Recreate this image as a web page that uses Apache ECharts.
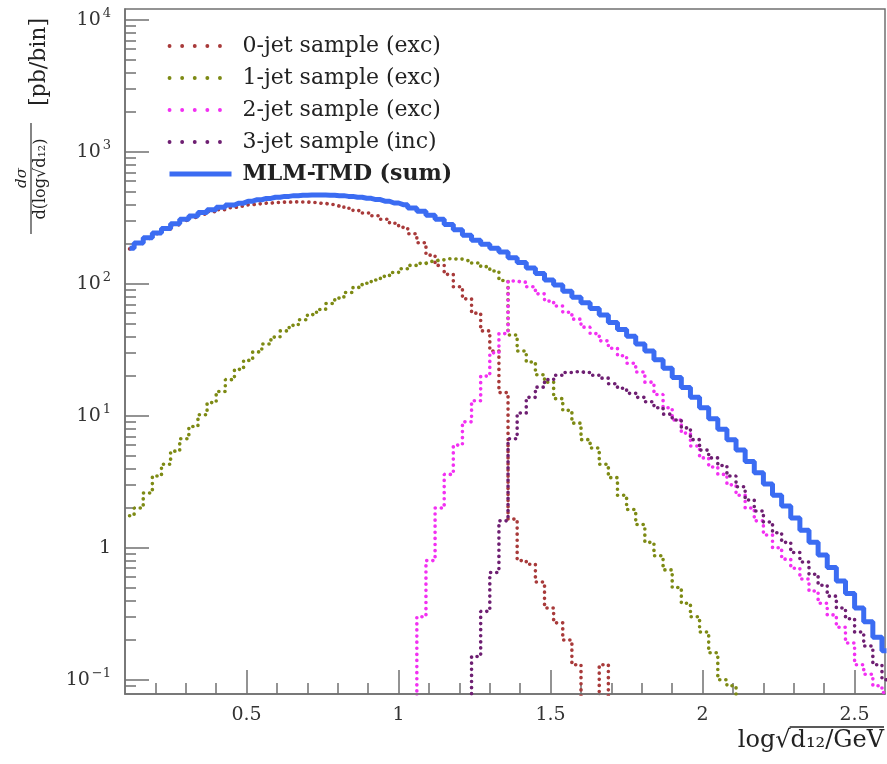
<!DOCTYPE html>
<html>
<head>
<meta charset="utf-8">
<script src="https://cdn.jsdelivr.net/npm/echarts@6/dist/echarts.min.js"></script>
<style>
html,body{margin:0;padding:0;background:#fff;}
#main{width:887px;height:764px;}
</style>
</head>
<body>
<div id="main"></div>
<script>
// ---- data (bin centres of log10 sqrt(d12)/GeV, bin width 0.03) ----
const binCenters = [0.115,0.145,0.175,0.205,0.235,0.265,0.295,0.325,0.355,0.385,
  0.415,0.445,0.475,0.505,0.535,0.565,0.595,0.625,0.655,0.685,
  0.715,0.745,0.775,0.805,0.835,0.865,0.895,0.925,0.955,0.985,
  1.015,1.045,1.075,1.105,1.135,1.165,1.195,1.225,1.255,1.285,
  1.315,1.345,1.375,1.405,1.435,1.465,1.495,1.525,1.555,1.585,
  1.615,1.645,1.675,1.705,1.735,1.765,1.795,1.825,1.855,1.885,
  1.915,1.945,1.975,2.005,2.035,2.065,2.095,2.125,2.155,2.185,
  2.215,2.245,2.275,2.305,2.335,2.365,2.395,2.425,2.455,2.485,
  2.515,2.545,2.575,2.605];

const jet0 = [184,202,221,240,259,280,302,319,337,352,
  365,377,387,397,404,409,414,416,418,417,
  414,408,399,388,374,359,344,328,309,288,
  268,240,205,165,138,118,95,77,60,44,
  31,15,1.65,0.8,0.75,0.55,0.35,0.27,0.2,0.13,
  0.07,0.06,0.13,0.06,null,null,null,null,null,null,
  null,null,null,null,null,null,null,null,null,null,
  null,null,null,null,null,null,null,null,null,null,
  null,null,null,null];

const jet1 = [1.75,2.0,2.6,3.5,4.3,5.4,6.7,8.3,10.2,12.6,
  15.3,18.8,22.5,26.3,30.5,35,39.5,44,48.5,53.5,
  58.5,64,71,78,86,94,101,107,114,122,
  130,138,143,148,152,155,154,150,144,135,
  125,106,41,31,25.6,20.5,18,13.5,11,8.8,
  6.6,5.7,4.3,3.4,2.5,1.95,1.5,1.1,0.87,0.68,
  0.5,0.38,0.3,0.23,0.16,0.1,0.09,0.05,null,null,
  null,null,null,null,null,null,null,null,null,null,
  null,null,null,null];

const jet2 = [null,null,null,null,null,null,null,null,null,null,
  null,null,null,null,null,null,null,null,null,null,
  null,null,null,null,null,null,null,null,null,null,
  null,0.07,0.3,0.8,2.0,3.6,6.0,9.0,13,20,
  30,42,105,103,95,84,74,68,61,54,
  47,42,37,32.5,28.5,25,21.5,18,14.5,11.5,
  9.3,7.4,5.9,4.8,4.1,3.6,3.0,2.5,2.0,1.6,
  1.25,1.0,0.82,0.7,0.58,0.47,0.38,0.31,0.25,0.19,
  0.13,0.11,0.09,0.08];

const jet3 = [null,null,null,null,null,null,null,null,null,null,
  null,null,null,null,null,null,null,null,null,null,
  null,null,null,null,null,null,null,null,null,null,
  null,null,null,null,null,null,null,0.06,0.15,0.33,
  0.65,1.6,6.7,10.5,13.8,16.5,18.8,20.3,21.3,21.6,
  21.3,20.3,19.3,17.5,16.2,14.8,13.8,12.8,11.5,10.3,
  9.3,8.1,6.6,5.5,4.8,4.2,3.5,2.9,2.3,1.9,
  1.57,1.3,1.1,0.92,0.78,0.63,0.52,0.43,0.35,0.29,
  0.23,0.18,0.13,0.1];

const sumTMD = [186,204,224,243,263,285,309,327,347,365,
  380,396,409,423,434,444,453,460,466,470,
  472,472,470,466,460,453,445,435,423,410,
  398,376,355,331,309,282,257,234,214,200,
  186,174,158,145,132,120,107,98,88,79,
  72,65,58,51,45,40,35,31,26.6,22.9,
  19.5,16.4,13.8,11.5,9.5,7.9,6.6,5.5,4.5,3.7,
  3.05,2.5,2.07,1.68,1.36,1.10,0.88,0.71,0.56,0.45,
  0.35,0.275,0.21,0.166];

const seriesNames = ['0-jet sample (exc)','1-jet sample (exc)','2-jet sample (exc)','3-jet sample (inc)','MLM-TMD (sum)'];
const seriesColors = ['#a83a3a','#7d8a14','#f230f2','#6e1f72','#3b6cf2'];
const xMajorTicks = [0.5,1,1.5,2,2.5];
const xMinorTicks = [0.2,0.3,0.4,0.6,0.7,0.8,0.9,1.1,1.2,1.3,1.4,1.6,1.7,1.8,1.9,2.1,2.2,2.3,2.4];
const yMajorTicks = [0.1,1,10,100,1000,10000];
const yMinorTicks = [0.09,0.2,0.3,0.4,0.5,0.6,0.7,0.8,0.9,2,3,4,5,6,7,8,9,
  20,30,40,50,60,70,80,90,200,300,400,500,600,700,800,900,
  2000,3000,4000,5000,6000,7000,8000,9000];

// ---- chart ----
const FONT = 'DejaVu Serif';
const AX = '#707070';
const chart = echarts.init(document.getElementById('main'), null, {renderer:'canvas'});

function pairs(vals){ return binCenters.map((x,i)=>[x, vals[i]]); }
const allVals = [jet0, jet1, jet2, jet3, sumTMD];

const series = allVals.map((vals, k) => {
  const isSum = k === 4;
  return {
    name: seriesNames[k],
    type: 'line',
    step: 'middle',
    data: pairs(vals),
    showSymbol: false,
    symbol: 'none',
    connectNulls: false,
    clip: true,
    z: isSum ? 5 : 3,
    lineStyle: isSum
      ? {color: seriesColors[k], width: 5, type: 'solid'}
      : {color: seriesColors[k], width: 3.6, type: [0.1, 6], cap: 'round'},
    itemStyle: {color: seriesColors[k]}
  };
});

function expLabel(v){
  const e = Math.round(Math.log10(v));
  if (e === 0) return '{b|1}';
  return '{b|10}{s|' + (e < 0 ? '\u2212' + (-e) : e) + '}';
}

// measure overline width for the x-axis title
const mctx = document.createElement('canvas').getContext('2d');
mctx.font = '24px "' + FONT + '"';
const xTitleTail = 'd\u2081\u2082/GeV';
const tailW = mctx.measureText(xTitleTail).width;

const hidden = {color:'rgba(0,0,0,0)', borderColor:'rgba(0,0,0,0)', borderWidth:0, opacity:0};

const option = {
  animation: false,
  backgroundColor: '#fff',
  grid: {left:125, right:2, top:9, bottom:70, show:true, borderColor:AX, borderWidth:1.5, backgroundColor:'transparent'},
  legend: {
    orient: 'vertical',
    left: 162, top: 29,
    itemWidth: 62, itemHeight: 14,
    itemGap: 8,
    itemStyle: hidden,
    textStyle: {fontFamily: FONT, fontSize: 22, color:'#222', lineHeight: 24, padding:[0,0,0,6]},
    data: seriesNames.map((n,k)=> k===4
      ? {name:n, itemStyle: hidden, lineStyle:{width:5, type:'solid', color:seriesColors[k]}, textStyle:{fontWeight:'bold', fontFamily: FONT, fontSize: 22}}
      : {name:n, itemStyle: hidden, lineStyle:{width:3.8, type:[0.1,12.5], cap:'round', color:seriesColors[k]}})
  },
  xAxis: [{
    type:'value', min:0.1, max:2.6,
    axisLine:{show:true, lineStyle:{color:AX, width:1.5}},
    axisTick:{show:true, inside:true, length:24, customValues:xMajorTicks, lineStyle:{color:AX, width:1.5}},
    axisLabel:{customValues:xMajorTicks, fontFamily:FONT, fontSize:19, color:'#333', margin:12,
      formatter: v => String(v)},
    splitLine:{show:false}
  },{
    type:'value', min:0.1, max:2.6, position:'bottom',
    axisLine:{show:false},
    axisTick:{show:true, inside:true, length:11, customValues:xMinorTicks, lineStyle:{color:AX, width:1.5}},
    axisLabel:{show:false},
    splitLine:{show:false}
  }],
  yAxis: [{
    type:'log', logBase:10, min:0.078, max:12100,
    axisLine:{show:true, lineStyle:{color:AX, width:1.5}},
    axisTick:{show:true, inside:true, length:24, customValues:yMajorTicks, lineStyle:{color:AX, width:1.5}},
    axisLabel:{customValues:yMajorTicks, margin:14, formatter: expLabel,
      rich:{
        b:{fontFamily:FONT, fontSize:19, color:'#333'},
        s:{fontFamily:FONT, fontSize:13, color:'#333', verticalAlign:'top', padding:[0,0,12,2]}
      }},
    splitLine:{show:false}
  },{
    type:'log', logBase:10, min:0.078, max:12100, position:'left',
    axisLine:{show:false},
    axisTick:{show:true, inside:true, length:11, customValues:yMinorTicks, lineStyle:{color:AX, width:1.5}},
    axisLabel:{show:false},
    splitLine:{show:false}
  }],
  series: series,
  graphic: [
    {type:'text', x:39, y:62, rotation:Math.PI/2,
      style:{text:'[pb/bin]', font:'22px "' + FONT + '"', fill:'#222', align:'center', verticalAlign:'middle'}},
    {type:'line', shape:{x1:31, y1:123, x2:31, y2:234}, style:{stroke:'#333', lineWidth:1.2}},
    {type:'text', x:22, y:178, rotation:Math.PI/2,
      style:{text:'d\u03c3', font:'italic 15px "' + FONT + '"', fill:'#222', align:'center', verticalAlign:'middle'}},
    {type:'text', x:41, y:179, rotation:Math.PI/2,
      style:{text:'d(log\u221ad\u2081\u2082)', font:'16px "' + FONT + '"', fill:'#222', align:'center', verticalAlign:'middle'}},
    {type:'text', x:884, y:741,
      style:{text:'log\u221a' + xTitleTail, font:'24px "' + FONT + '"', fill:'#222', align:'right', verticalAlign:'middle'}},
    {type:'line', shape:{x1:884 - tailW - 1, y1:727, x2:884, y2:727}, style:{stroke:'#222', lineWidth:1.3}}
  ]
};
chart.setOption(option);
</script>
</body>
</html>
